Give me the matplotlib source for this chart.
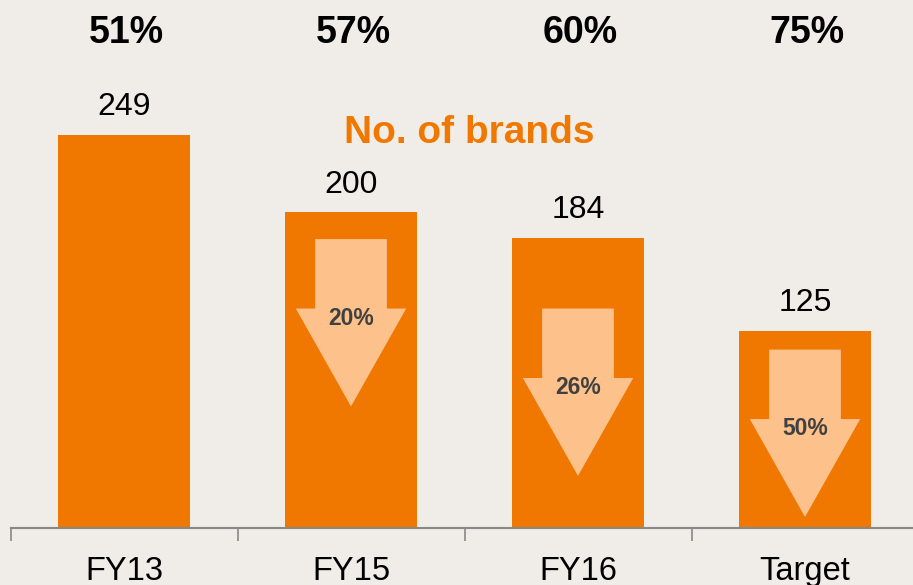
import matplotlib
matplotlib.use("Agg")
import matplotlib.pyplot as plt
from matplotlib.patches import Polygon

categories = ["FY13", "FY15", "FY16", "Target"]
brands = [249, 200, 184, 125]
share_labels = ["51%", "57%", "60%", "75%"]
reduction_labels = [None, "20%", "26%", "50%"]
arrow_tops = [None, 183, 139, 113]

BG = "#F0EDE9"
ORANGE = "#F07800"
PEACH = "#FDC18C"

fig = plt.figure(figsize=(9.13, 5.85), dpi=100, facecolor=BG)
ax = fig.add_axes([10.5 / 913, 57 / 585, 908 / 913, 521 / 585], facecolor=BG)

x = list(range(len(categories)))
ax.bar(x, brands, width=0.58, color=ORANGE, zorder=2)
ax.set_xlim(-0.5, 3.5)
ax.set_ylim(0, 330)

for xi, v in zip(x, brands):
    ax.annotate(str(v), (xi, v), xytext=(0, 9), textcoords="offset points",
                ha="center", va="bottom", fontsize=23, color="black",
                family="Liberation Sans")

for xi, s in zip(x, share_labels):
    ax.text(xi + 0.01, 313.5, s, ha="center", va="center", fontsize=27,
            fontweight="bold", color="black", family="Liberation Sans")

ax.text(1.52, 250, "No. of brands", ha="center", va="center", fontsize=28,
        fontweight="bold", color=ORANGE, family="Liberation Sans")

arrow_len = 106
head_len = 62
shaft_hw = 0.158
head_hw = 0.243
for xi, top, lab in zip(x, arrow_tops, reduction_labels):
    if top is None:
        continue
    hy = top - (arrow_len - head_len)
    tip = top - arrow_len
    pts = [(xi - shaft_hw, top), (xi + shaft_hw, top), (xi + shaft_hw, hy),
           (xi + head_hw, hy), (xi, tip), (xi - head_hw, hy), (xi - shaft_hw, hy)]
    ax.add_patch(Polygon(pts, closed=True, facecolor=PEACH, edgecolor="none", zorder=3))
    ax.text(xi, hy - 6, lab, ha="center", va="center", fontsize=16.5,
            fontweight="bold", color="#404040", family="Liberation Sans", zorder=4)

for s in ["top", "right", "left"]:
    ax.spines[s].set_visible(False)
ax.spines["bottom"].set_color("#888888")
ax.spines["bottom"].set_linewidth(1.5)
ax.set_yticks([])
ax.set_xticks(x)
ax.set_xticklabels(categories, fontsize=23.5, family="Liberation Sans")
ax.tick_params(axis="x", which="major", length=0, pad=20)
ax.set_xticks([-0.5, 0.5, 1.5, 2.5, 3.5], minor=True)
ax.tick_params(axis="x", which="minor", length=9, width=1.2, color="#888888")

fig.savefig("out.png", dpi=100, facecolor=BG)
